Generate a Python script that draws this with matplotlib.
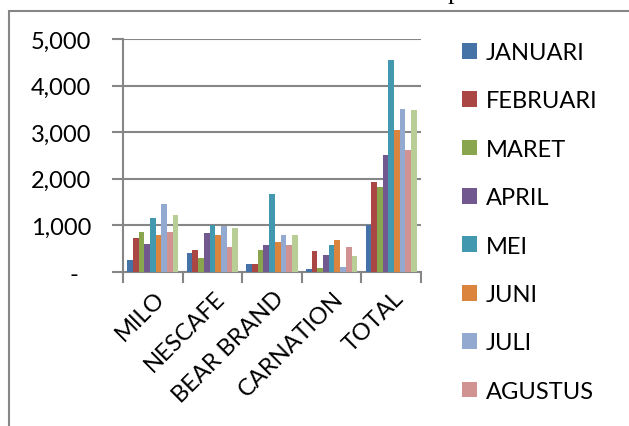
import matplotlib
matplotlib.use('Agg')
import matplotlib.pyplot as plt
from matplotlib.patches import Rectangle
from matplotlib.ticker import FuncFormatter, FixedLocator
import numpy as np

# ----------------------------------------------------------------------
#  DATA
# ----------------------------------------------------------------------
products = ['MILO', 'NESCAFE', 'BEAR BRAND', 'CARNATION', 'TOTAL']
months = ['JANUARI', 'FEBRUARI', 'MARET', 'APRIL', 'MEI',
          'JUNI', 'JULI', 'AGUSTUS', 'SEPTEMBER']

januari   = [250, 410, 170, 70, 1000]
februari  = [730, 470, 180, 460, 1930]
maret     = [850, 290, 470, 80, 1820]
april     = [600, 830, 575, 365, 2510]
mei       = [1150, 1000, 1680, 570, 4540]
juni      = [790, 790, 650, 690, 3050]
juli      = [1450, 980, 790, 100, 3490]
agustus   = [850, 540, 570, 530, 2610]
september = [1230, 950, 790, 350, 3480]
series = [januari, februari, maret, april, mei, juni, juli, agustus, september]

y_ticks = [0, 1000, 2000, 3000, 4000, 5000]

colors = ['#4572A7', '#AA4643', '#89A54E', '#71588F', '#4198AF',
          '#DB843D', '#93A9CF', '#D19392', '#B9CD96']

# ----------------------------------------------------------------------
#  PLOT
# ----------------------------------------------------------------------
plt.rcParams['font.family'] = ['Lato', 'DejaVu Sans']
font_size = 17
grid_color = '#868686'

W, H = 629, 427
fig = plt.figure(figsize=(W / 100, H / 100), dpi=100)
ax = fig.add_axes([123 / W, 1 - 273 / H, (421 - 123) / W, (273 - 40) / H])

n_series = len(series)
x = np.arange(len(products))
bar_w = 0.86 / n_series
bars = []
for i, vals in enumerate(series):
    offs = (i - (n_series - 1) / 2) * bar_w
    b = ax.bar(x + offs, vals, width=bar_w, color=colors[i], label=months[i],
               zorder=3, linewidth=0)
    bars.append(b)

ax.set_xlim(-0.5, len(products) - 0.5)
ax.set_ylim(0, 5000)
ax.set_yticks(y_ticks)
ax.yaxis.set_major_formatter(FuncFormatter(
    lambda v, p: '-  ' if v == 0 else '{:,.0f}'.format(v)))
ax.yaxis.grid(True, color=grid_color, linewidth=1.5, zorder=0)

# category boundaries as x ticks, labels at centres
ax.xaxis.set_major_locator(FixedLocator(np.arange(-0.5, len(products), 1.0)))
ax.xaxis.set_major_formatter(FuncFormatter(lambda v, p: ''))
ax.xaxis.set_minor_locator(FixedLocator(x + 0.02))
ax.set_xticklabels(products, minor=True, rotation=45, ha='right',
                   va='top', rotation_mode='anchor', fontsize=font_size)
ax.tick_params(axis='x', which='minor', length=0, pad=11)
ax.tick_params(axis='x', which='major', length=8, width=1.5, color=grid_color,
               direction='out')
ax.tick_params(axis='y', length=8, width=1.5, color=grid_color, pad=15,
               labelsize=font_size)

for side in ['top', 'right']:
    ax.spines[side].set_visible(False)
for side in ['left', 'bottom']:
    ax.spines[side].set_color(grid_color)
    ax.spines[side].set_linewidth(1.5)

# legend (only the first eight entries fit in the chart area)
leg = ax.legend(bars[:8], months[:8], loc='upper left',
                bbox_to_anchor=(462 / W, 1 - 43 / H),
                bbox_transform=fig.transFigure, frameon=False,
                fontsize=font_size, handlelength=0.65, handleheight=0.65,
                handletextpad=0.35, labelspacing=1.16, borderpad=0,
                borderaxespad=0)

# chart border, runs off the right and bottom of the picture
fig.patches.append(Rectangle((8.5 / W, -0.1), 1.2, 1.1 - 11.5 / H,
                             transform=fig.transFigure, fill=False,
                             edgecolor=grid_color, linewidth=1.5))

# cut-off title above the chart box
fig.text(448 / W, 1 + 1.5 / H, 'p', family='Liberation Serif',
         fontsize=19, va='baseline', ha='left')

fig.savefig('out.png', dpi=100)
